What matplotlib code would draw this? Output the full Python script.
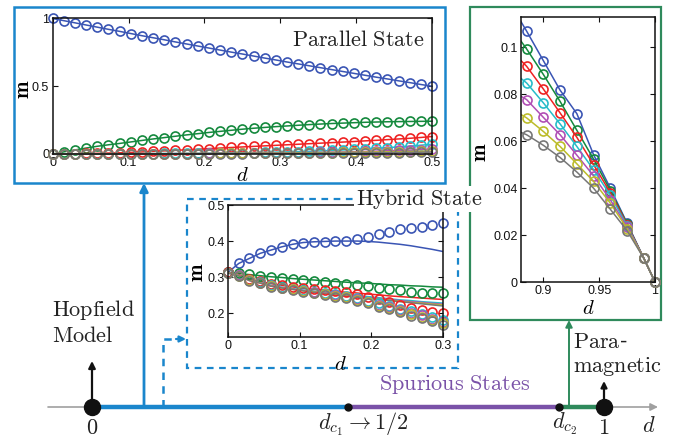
import numpy as np
import matplotlib
matplotlib.use('Agg')
import matplotlib.pyplot as plt

plt.rcParams['mathtext.fontset'] = 'cm'
plt.rcParams['font.family'] = ['Liberation Sans', 'DejaVu Sans']

# ---------------- data ----------------
series_colors = ['#3a55b4', '#14893d', '#ee2222', '#26bcc9', '#b04fb5', '#bcbc2a', '#777777']

# Parallel state panel (d from 0 to 0.5)
par_d = np.linspace(0, 0.5, 35)
par_blue = [1.000, .984, .968, .952, .936, .920, .905, .889, .873, .858, .843, .827, .812, .797,
            .782, .767, .752, .738, .723, .708, .694, .679, .665, .651, .637, .623, .609, .595,
            .581, .567, .554, .540, .527, .513, .500]
par_green = [0, .016, .030, .044, .057, .068, .078, .089, .100, .111, .121, .131, .141, .150,
             .159, .167, .175, .183, .190, .196, .202, .207, .212, .217, .221, .225, .228, .231,
             .234, .236, .238, .239, .240, .241, .242]
par_red = [0, .001, .002, .004, .005, .007, .009, .012, .015, .019, .023, .027, .031, .035,
           .040, .044, .048, .052, .056, .060, .064, .068, .072, .076, .080, .084, .088, .092,
           .097, .101, .106, .111, .116, .122, .129]
par_cyan = [0, 0, .001, .001, .001, .002, .002, .002, .003, .003, .004, .004, .005, .005,
            .006, .007, .008, .009, .010, .012, .014, .016, .018, .020, .023, .026, .030, .034,
            .038, .042, .047, .052, .058, .065, .072]
par_magenta = [0, 0, 0, .001, .001, .001, .001, .002, .002, .002, .002, .003, .003, .003,
               .004, .004, .005, .005, .006, .007, .008, .009, .010, .011, .012, .014, .015,
               .017, .019, .021, .024, .026, .029, .032, .036]
par_yellow = [0, 0, 0, 0, .001, .001, .001, .001, .002, .002, .002, .002, .003, .003, .003,
              .004, .004, .005, .005, .006, .006, .007, .008, .009, .010, .011, .012, .013,
              .014, .015, .016, .017, .018, .020, .022]
par_gray = [0, 0, 0, 0, 0, .001, .001, .001, .001, .001, .001, .002, .002, .002, .002, .003,
            .003, .003, .004, .004, .004, .005, .005, .006, .006, .007, .007, .008, .008, .009,
            .010, .011, .012, .013, .015]
par_series = [par_blue, par_green, par_red, par_cyan, par_magenta, par_yellow, par_gray]

# Hybrid state panel (d from 0 to 0.3): simulation markers and theory lines
hyb_d = np.linspace(0, 0.3, 21)
hyb_mk_blue = [.313, .338, .352, .366, .375, .384, .391, .396, .398, .398, .399, .400, .405,
               .410, .420, .426, .433, .436, .440, .445, .449]
hyb_mk_green = [.313, .311, .309, .303, .300, .297, .295, .292, .289, .287, .285, .281, .278,
                .276, .269, .266, .263, .260, .257, .256, .255]
hyb_mk_red = [.313, .307, .294, .288, .282, .277, .273, .269, .266, .264, .262, .258, .253,
              .246, .239, .230, .223, .214, .209, .204, .200]
hyb_mk_cyan = [.312, .305, .292, .286, .277, .272, .268, .264, .260, .256, .252, .248, .242,
               .235, .227, .221, .213, .205, .199, .190, .182]
hyb_mk_magenta = [.312, .305, .292, .285, .276, .271, .267, .262, .258, .254, .250, .246, .239,
                  .232, .224, .217, .209, .200, .194, .185, .176]
hyb_mk_yellow = [.312, .304, .291, .284, .275, .270, .266, .261, .257, .253, .248, .244, .237,
                 .230, .221, .214, .205, .197, .190, .181, .172]
hyb_mk_gray = [.311, .303, .290, .283, .274, .269, .265, .260, .255, .251, .246, .242, .235,
               .228, .218, .211, .202, .193, .186, .177, .168]
hyb_markers = [hyb_mk_blue, hyb_mk_green, hyb_mk_red, hyb_mk_cyan, hyb_mk_magenta,
               hyb_mk_yellow, hyb_mk_gray]

hyb_ln_blue = [.313, .338, .352, .366, .375, .384, .391, .396, .398, .399, .400, .400, .400,
               .399, .397, .394, .391, .387, .382, .377, .371]
hyb_ln_green = [.313, .310, .307, .304, .301, .299, .296, .294, .292, .290, .288, .286, .284,
                .283, .281, .279, .278, .276, .275, .273, .272]
hyb_ln_red = [.313, .307, .294, .288, .282, .277, .273, .269, .266, .264, .261, .258, .256,
              .253, .251, .248, .246, .244, .242, .240, .238]
hyb_ln_cyan = [.312, .305, .292, .286, .277, .272, .268, .264, .261, .258, .255, .252, .249,
               .246, .243, .240, .237, .235, .232, .230, .228]
hyb_ln_magenta = [.312, .305, .292, .285, .276, .271, .267, .263, .260, .257, .253, .250, .247,
                  .244, .241, .238, .235, .232, .230, .227, .225]
hyb_ln_yellow = [.312, .304, .291, .284, .275, .270, .266, .262, .259, .255, .252, .248, .245,
                 .242, .239, .236, .233, .230, .228, .225, .223]
hyb_ln_gray = [.311, .303, .290, .283, .275, .270, .266, .262, .258, .254, .250, .247, .244,
               .241, .238, .235, .232, .229, .226, .223, .220]
hyb_lines = [hyb_ln_blue, hyb_ln_green, hyb_ln_red, hyb_ln_cyan, hyb_ln_magenta,
             hyb_ln_yellow, hyb_ln_gray]

# Paramagnetic panel (d from 0.88 to 1)
para_d = [0.885, 0.9, 0.915, 0.93, 0.945, 0.96, 0.975, 0.99, 1.0]
para_line_start_d = 0.88
para_line_start = [0.111, 0.1027, 0.0944, 0.0868, 0.0792, 0.0714, 0.0638]
para_blue = [0.107, 0.0944, 0.0818, 0.0718, 0.0543, 0.0400, 0.0251, 0.0101, 0.0]
para_green = [0.0994, 0.0885, 0.0770, 0.0647, 0.0524, 0.0390, 0.0248, 0.0101, 0.0]
para_red = [0.0920, 0.0823, 0.0721, 0.0617, 0.0500, 0.0381, 0.0245, 0.0101, 0.0]
para_cyan = [0.0849, 0.0764, 0.0674, 0.0578, 0.0479, 0.0370, 0.0240, 0.0101, 0.0]
para_magenta = [0.0778, 0.0702, 0.0628, 0.0541, 0.0453, 0.0350, 0.0235, 0.0101, 0.0]
para_yellow = [0.0700, 0.0642, 0.0578, 0.0504, 0.0429, 0.0336, 0.0228, 0.0101, 0.0]
para_gray = [0.0628, 0.0583, 0.0531, 0.0469, 0.0400, 0.0310, 0.0219, 0.0101, 0.0]
para_series = [para_blue, para_green, para_red, para_cyan, para_magenta, para_yellow, para_gray]

# tick labels
par_xticks = [0, 0.1, 0.2, 0.3, 0.4, 0.5]
par_xticklabels = ['0', '0.1', '0.2', '0.3', '0.4', '0.5']
par_yticks = [0, 0.5, 1]
par_yticklabels = ['0', '0.5', '1']
hyb_xticks = [0, 0.1, 0.2, 0.3]
hyb_xticklabels = ['0', '0.1', '0.2', '0.3']
hyb_yticks = [0.2, 0.3, 0.4, 0.5]
hyb_yticklabels = ['0.2', '0.3', '0.4', '0.5']
para_xticks = [0.9, 0.95, 1.0]
para_xticklabels = ['0.9', '0.95', '1']
para_yticks = [0, 0.02, 0.04, 0.06, 0.08, 0.1]
para_yticklabels = ['0', '0.02', '0.04', '0.06', '0.08', '0.1']

# ---------------- figure ----------------
W, H = 688, 440
fig = plt.figure(figsize=(W / 100, H / 100), dpi=100)

BLUE = '#1a86cc'
PURPLE = '#7a52a8'
GREEN = '#2f8a5c'
GRAY = '#a0a0a0'
TXT = '#222222'

# overlay axes in pixel coordinates
ov = fig.add_axes([0, 0, 1, 1])
ov.set_xlim(0, W)
ov.set_ylim(H, 0)
ov.axis('off')

def arrow(ax, tail, tip, color, lw, ms=12, ls='-'):
    ax.annotate('', xy=tip, xytext=tail,
                arrowprops=dict(arrowstyle='-|>', color=color, lw=lw, shrinkA=0, shrinkB=0,
                                mutation_scale=ms, linestyle=ls))

yax = 407
# d axis
arrow(ov, (48, yax), (658, yax), GRAY, 1.2, ms=11)
ov.plot([92, 348], [yax, yax], color=BLUE, lw=3.2, solid_capstyle='butt', zorder=3)
ov.plot([348, 559], [yax, yax], color=PURPLE, lw=3.2, solid_capstyle='butt', zorder=3)
ov.plot([559, 604], [yax, yax], color=GREEN, lw=3.2, solid_capstyle='butt', zorder=3)
ov.plot([92, 604], [yax, yax], 'o', color='#111111', ms=11.5, zorder=5)
ov.plot([348, 559], [yax, yax], 'o', color='#111111', ms=5, zorder=5)
arrow(ov, (92, yax), (92, 361), '#111111', 1.6, ms=10)
arrow(ov, (604, yax - 4), (604, 381), '#111111', 1.6, ms=9)

# boxes
ov.add_patch(plt.Rectangle((14, 7), 431, 176, fill=False, ec=BLUE, lw=1.8))
ov.add_patch(plt.Rectangle((187, 199), 271, 169, fill=False, ec=BLUE, lw=1.6, ls=(0, (3, 2.5))))
ov.add_patch(plt.Rectangle((470, 7), 191, 313, fill=False, ec=GREEN, lw=1.6))

# connectors
arrow(ov, (144, yax), (144, 183), BLUE, 2.0, ms=12)
ov.plot([163, 163, 178], [yax, 339, 339], color=BLUE, lw=1.8, ls=(0, (3, 2.5)))
arrow(ov, (176, 339), (186, 339), BLUE, 1.6, ms=9)
arrow(ov, (569, yax), (569, 320), GREEN, 1.4, ms=10)

# texts
tfs = 16
ov.text(52, 310, r'$\mathrm{Hopfield}$', fontsize=tfs, ha='left', va='center', color=TXT)
ov.text(52, 337, r'$\mathrm{Model}$', fontsize=tfs, ha='left', va='center', color=TXT)
ov.text(92, 428, r'$0$', fontsize=tfs, ha='center', va='center', color=TXT)
ov.text(363, 424, r'$d_{c_1}\rightarrow 1/2$', fontsize=tfs, ha='center', va='center', color=TXT)
ov.text(565, 424, r'$d_{c_2}$', fontsize=tfs, ha='center', va='center', color=TXT)
ov.text(604, 428, r'$1$', fontsize=tfs, ha='center', va='center', color=TXT)
ov.text(649, 427, r'$d$', fontsize=tfs, ha='center', va='center', color=TXT)
ov.text(455, 384, r'$\mathrm{Spurious\ States}$', fontsize=tfs, ha='center', va='center', color=PURPLE)
ov.text(573, 342, r'$\mathrm{Para}$-', fontsize=tfs, ha='left', va='center', color=TXT)
ov.text(573, 367, r'$\mathrm{magnetic}$', fontsize=tfs, ha='left', va='center', color=TXT)


def px_rect(left, right, top, bottom):
    return [left / W, (H - bottom) / H, (right - left) / W, (bottom - top) / H]


def style_axes(ax, xt, xtl, yt, ytl):
    ax.set_xticks(xt)
    ax.set_xticklabels(xtl)
    ax.set_yticks(yt)
    ax.set_yticklabels(ytl)
    ax.tick_params(direction='in', top=True, right=True, length=3.5, width=0.8,
                   labelsize=9, pad=2.5, colors='#111111')
    for s in ax.spines.values():
        s.set_linewidth(1.1)
        s.set_color('#111111')


def style_labels(ax, xc, yc):
    ax.set_xlabel(r'$d$', fontsize=15)
    ax.set_ylabel(r'$\mathbf{m}$', fontsize=15)
    ax.xaxis.set_label_coords(*xc)
    ax.yaxis.set_label_coords(*yc)
    ax.xaxis.label.set_va('center')
    ax.yaxis.label.set_va('center')


mk = dict(marker='o', mfc='none', ms=6.5, mew=1.2, clip_on=False)

# Parallel panel
a1 = fig.add_axes(px_rect(52.7, 432, 18.5, 154))
for ys, c in zip(par_series, series_colors):
    a1.plot(par_d, ys, color=c, lw=1.1, **mk)
a1.set_xlim(0, 0.5)
a1.set_ylim(0, 1.0)
style_axes(a1, par_xticks, par_xticklabels, par_yticks, par_yticklabels)
style_labels(a1, (0.5, -0.16), (-0.078, 0.48))
a1.text(0.982, 0.84, r'$\mathrm{Parallel\ State}$', transform=a1.transAxes, fontsize=tfs,
        ha='right', va='center', color=TXT)

# Hybrid panel
a2 = fig.add_axes(px_rect(228, 443, 205, 337))
for ys, c in zip(hyb_lines, series_colors):
    a2.plot(hyb_d, ys, color=c, lw=1.1)
for ys, c in zip(hyb_markers, series_colors):
    a2.plot(hyb_d, ys, ls='none', color=c, **mk)
a2.set_xlim(0, 0.3)
a2.set_ylim(0.134, 0.5)
style_axes(a2, hyb_xticks, hyb_xticklabels, hyb_yticks, hyb_yticklabels)
style_labels(a2, (0.525, -0.21), (-0.14, 0.49))

# Paramagnetic panel
a3 = fig.add_axes(px_rect(521, 655, 17, 282))
for ys, y0, c in zip(para_series, para_line_start, series_colors):
    a3.plot([para_line_start_d] + para_d, [y0] + ys, color=c, lw=1.1)
    a3.plot(para_d, ys, ls='none', color=c, **mk)
a3.set_xlim(0.88, 1.0)
a3.set_ylim(0, 0.113)
style_axes(a3, para_xticks, para_xticklabels, para_yticks, para_yticklabels)
style_labels(a3, (0.5, -0.1), (-0.3, 0.49))

# Hybrid State title over the dashed box line
fig.text(419 / W, 1 - 199 / H, r'$\mathrm{Hybrid\ State}$', fontsize=tfs, ha='center',
         va='center', color=TXT,
         bbox=dict(facecolor='white', edgecolor='none', pad=1.0))

fig.savefig('out.png', dpi=100)
